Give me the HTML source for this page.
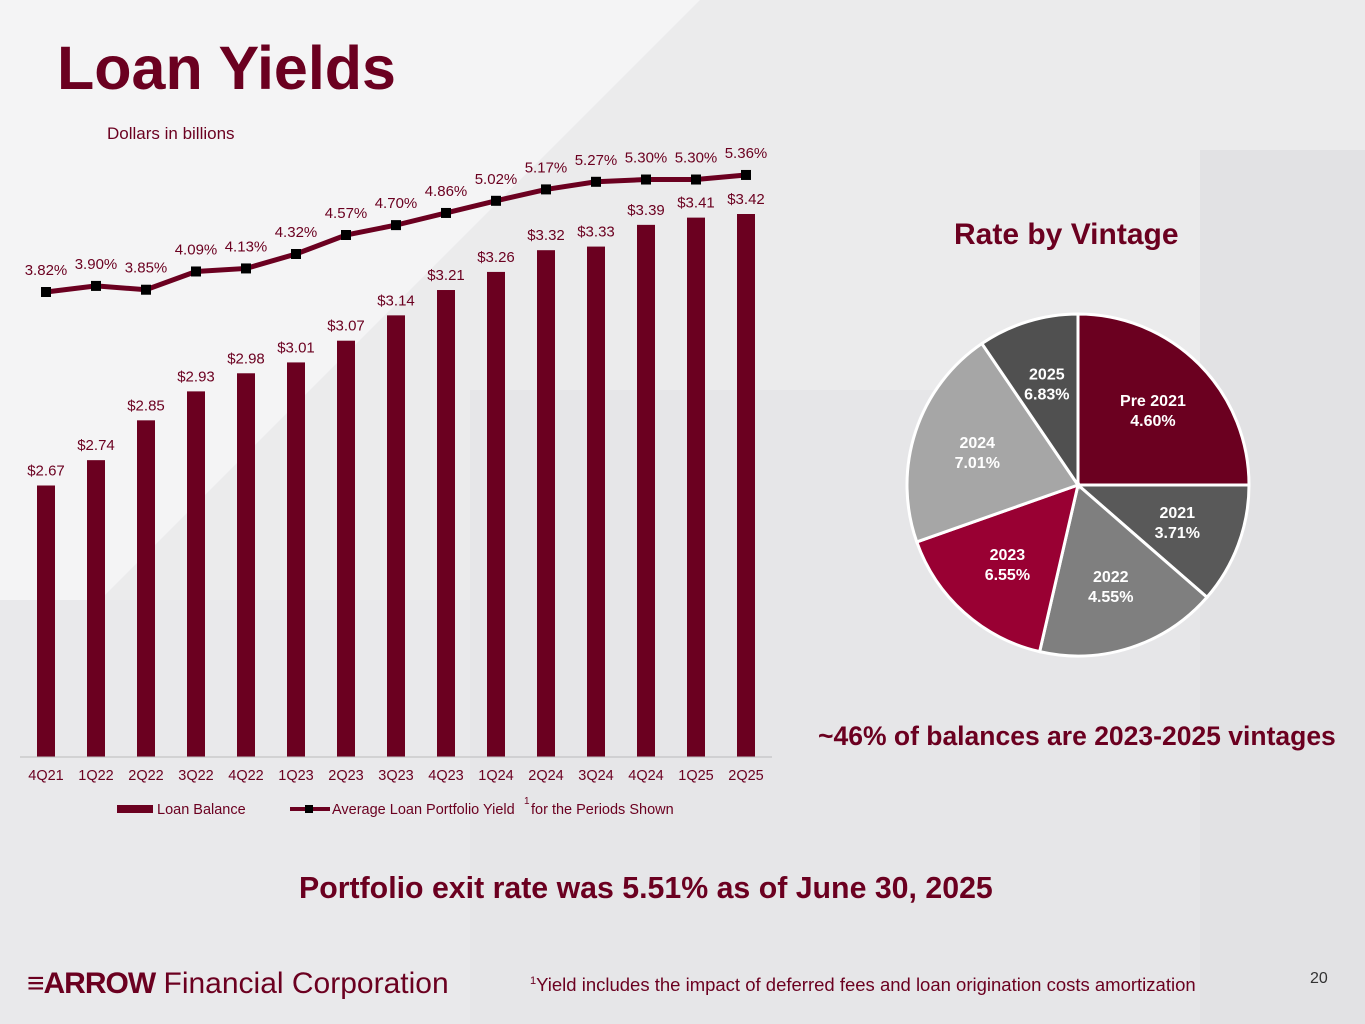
<!DOCTYPE html>
<html><head><meta charset="utf-8"><style>
body{margin:0;width:1365px;height:1024px;overflow:hidden;font-family:"Liberation Sans",sans-serif;background:#ececed;position:relative}
.abs{position:absolute}
</style></head><body>
<svg class="abs" style="left:0;top:0" width="1365" height="1024">
<rect width="1365" height="1024" fill="#ebebec"/>
<polygon points="0,0 700,0 0,700" fill="#f4f4f5"/>
<polygon points="470,390 1365,390 1365,1024 470,1024" fill="#e6e6e8"/>
<polygon points="1200,150 1365,150 1365,1024 1200,1024" fill="#e2e2e4"/>
<polygon points="0,600 470,600 470,1024 0,1024" fill="#e9e9eb"/>
</svg>
<div class="abs" style="left:57px;top:33px;font-size:61px;font-weight:bold;color:#6b0020">Loan Yields</div>
<div class="abs" style="left:107px;top:124px;font-size:17px;color:#6b0020">Dollars in billions</div>
<svg id="chart" class="abs" style="left:0;top:0" width="800" height="830"></svg>
<div class="abs" style="left:954px;top:218px;font-size:30px;font-weight:bold;color:#6b0020">Rate by Vintage</div>
<svg id="pie" class="abs" style="left:0;top:0" width="1365" height="1024"></svg>
<div class="abs" style="left:818px;top:721px;font-size:26.5px;font-weight:bold;color:#6b0020;white-space:nowrap">~46% of balances are 2023-2025 vintages</div>
<div class="abs" style="left:299px;top:872px;font-size:30.3px;font-weight:bold;color:#6b0020;white-space:nowrap">Portfolio exit rate was 5.51% as of June 30, 2025</div>
<div class="abs" style="left:27px;top:967px;font-size:30px;color:#6b0020;white-space:nowrap"><span style="font-weight:900;letter-spacing:-1px">≡ARROW</span> Financial Corporation</div>
<div class="abs" style="left:530px;top:974px;font-size:18.5px;color:#6b0020;white-space:nowrap"><sup style="font-size:11px">1</sup>Yield includes the impact of deferred fees and loan origination costs amortization</div>
<div class="abs" style="left:1310px;top:970px;font-size:16px;color:#333">20</div>
<script>
const categories=["4Q21","1Q22","2Q22","3Q22","4Q22","1Q23","2Q23","3Q23","4Q23","1Q24","2Q24","3Q24","4Q24","1Q25","2Q25"];
const balances=[2.67,2.74,2.85,2.93,2.98,3.01,3.07,3.14,3.21,3.26,3.32,3.33,3.39,3.41,3.42];
const yields=[3.82,3.90,3.85,4.09,4.13,4.32,4.57,4.70,4.86,5.02,5.17,5.27,5.30,5.30,5.36];
const vintages=["Pre 2021","2021","2022","2023","2024","2025"];
const vintageShares=[25,11.4,17.2,16,20.9,9.5];
const vintageRates=["4.60%","3.71%","4.55%","6.55%","7.01%","6.83%"];
const NS="http://www.w3.org/2000/svg";
function mk(p,t,a){const e=document.createElementNS(NS,t);for(const k in a)e.setAttribute(k,a[k]);p.appendChild(e);return e;}
const svg=document.getElementById('chart');
const x=i=>46+i*50;
const yB=v=>214+(3.42-v)*362;
const yL=v=>292-(v-3.82)*76;
const C="#6b0020";
balances.forEach((v,i)=>{
 const r=mk(svg,'rect',{x:x(i)-9,y:yB(v),width:18,height:757-yB(v),fill:C});
 
 const t=mk(svg,'text',{x:x(i),y:yB(v)-10,'text-anchor':'middle','font-size':15,fill:C});t.textContent='$'+v.toFixed(2);
 
 const c=mk(svg,'text',{x:x(i),y:780,'text-anchor':'middle','font-size':14.5,fill:C});c.textContent=categories[i];
 
});
mk(svg,'line',{x1:20,x2:772,y1:757,y2:757,stroke:'#bbb'});
const pl=mk(svg,'polyline',{points:yields.map((v,i)=>x(i)+','+yL(v)).join(' '),fill:'none',stroke:C,'stroke-width':5});

yields.forEach((v,i)=>{
 const m=mk(svg,'rect',{x:x(i)-5,y:yL(v)-5,width:10,height:10,fill:'#000'});
 
 const t=mk(svg,'text',{x:x(i),y:yL(v)-17,'text-anchor':'middle','font-size':15,fill:C});t.textContent=v.toFixed(2)+'%';
 
});
const lg=mk(svg,'g',{});

mk(lg,'rect',{x:117,y:805,width:36,height:8,fill:C});
let t1=mk(lg,'text',{x:157,y:814,'font-size':14.5,fill:C});t1.textContent='Loan Balance';
mk(lg,'line',{x1:290,x2:330,y1:809,y2:809,stroke:C,'stroke-width':4});
mk(lg,'rect',{x:305,y:805,width:8,height:8,fill:'#000'});
let t2=mk(lg,'text',{x:332,y:814,'font-size':14.5,fill:C});t2.textContent='Average Loan Portfolio Yield';
let t3=mk(lg,'text',{x:524,y:804,'font-size':10,fill:C});t3.textContent='1';
let t4=mk(lg,'text',{x:531,y:814,'font-size':14.5,fill:C});t4.textContent='for the Periods Shown';
const pie=document.getElementById('pie');
const cx=1078,cy=485,R=171;
const cols=["#6b0020","#595959","#7f7f7f","#990033","#a6a6a6","#505050"];
const total=vintageShares.reduce((a,b)=>a+b,0);
let a0=-Math.PI/2;
vintageShares.forEach((s,i)=>{
 const a1=a0+s/total*2*Math.PI;
 const p=mk(pie,'path',{d:`M${cx},${cy} L${cx+R*Math.cos(a0)},${cy+R*Math.sin(a0)} A${R},${R} 0 ${a1-a0>Math.PI?1:0} 1 ${cx+R*Math.cos(a1)},${cy+R*Math.sin(a1)} Z`,fill:cols[i],stroke:'#fff','stroke-width':3});
 
 const am=(a0+a1)/2, rl=R*0.62;
 const lx=cx+rl*Math.cos(am), ly=cy+rl*Math.sin(am);
 const g=mk(pie,'text',{x:lx,y:ly-4,'text-anchor':'middle','font-size':16,'font-weight':'bold',fill:'#fff'});g.textContent=vintages[i];
 
 const h=mk(pie,'text',{x:lx,y:ly+16,'text-anchor':'middle','font-size':16,'font-weight':'bold',fill:'#fff'});h.textContent=vintageRates[i];
 
 a0=a1;
});
</script>
</body></html>
